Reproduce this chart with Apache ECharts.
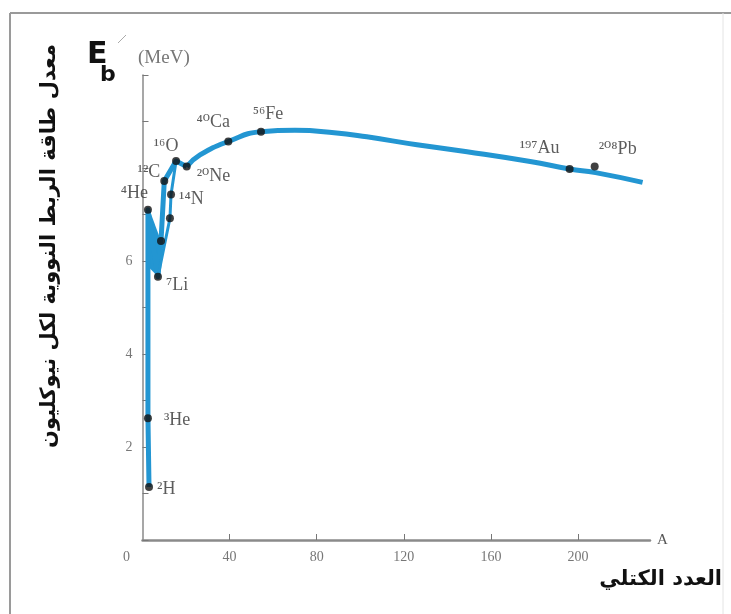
<!DOCTYPE html>
<html>
<head>
<meta charset="utf-8">
<script src="https://cdn.jsdelivr.net/npm/echarts@6/dist/echarts.min.js"></script>
<style>
html, body { margin: 0; padding: 0; background: #fff; }
#main { width: 731px; height: 614px; }
</style>
</head>
<body>
<div id="main"></div>
<script>
var myChart = echarts.init(document.getElementById('main'));

// nuclei: mass number A, binding energy per nucleon (MeV)
var nuclei = ['²H', '³He', '⁴He', '⁷Li', '', '', '¹²C', '¹⁴N', '¹⁶O', '²⁰Ne', '⁴⁰Ca', '⁵⁶Fe', '¹⁹⁷Au', '²⁰⁸Pb'];
var massA = [3, 2.5, 2.5, 7.1, 8.5, 12.6, 10, 13.1, 15.4, 20.3, 39.4, 54.4, 196.1, 207.6];
var energy = [1.14, 2.62, 7.10, 5.66, 6.43, 6.92, 7.72, 7.43, 8.15, 8.03, 8.57, 8.78, 7.98, 8.03];

// light nuclei part of the curve (straight pieces)
var lightA = [3, 2.5, 2.5, 7.1, 8.5, 10, 15.4, 20.3];
var lightE = [1.14, 2.62, 7.10, 5.66, 6.43, 7.72, 8.15, 8.03];
// filled wedge between 4He and 7Li
var wedgeA = [2.2, 2.2, 7.1, 8.5, 4];
var wedgeE = [7.10, 5.9, 5.66, 6.43, 7.0];
// side branch through 11B and 14N
var branchA = [7.1, 12.6, 13.1, 15.4];
var branchE = [5.66, 6.92, 7.43, 8.15];
// smooth part of the curve
var curveA = [20.3, 26.4, 39.4, 54.4, 70, 88, 103, 126, 149, 178, 196.1, 208, 229.6];
var curveE = [8.03, 8.28, 8.57, 8.78, 8.81, 8.76, 8.67, 8.5, 8.35, 8.14, 7.98, 7.9, 7.69];

var xTicks = [0, 40, 80, 120, 160, 200];
var yTickLabels = [2, 4, 6];

// where each isotope label sits next to its dot
var labelPlace = [
  ['right', [0, 2]], ['right', [8, 2]], ['left', [8, -17]], ['right', [0, 8]],
  ['right', [0, 0]], ['right', [0, 0]], ['left', [4, -9]], ['right', [0, 5]],
  ['top', [-10, 2]], ['right', [2, 10]], ['top', [-15, -2]], ['top', [7, 0]],
  ['top', [-30, -4]], ['top', [23, 0]]
];

function pairs(xs, ys) {
  var out = [];
  for (var i = 0; i < xs.length; i++) out.push([xs[i], ys[i]]);
  return out;
}

var dots = [];
for (var i = 0; i < massA.length; i++) {
  dots.push({
    value: [massA[i], energy[i]],
    name: nuclei[i],
    label: { position: labelPlace[i][0], offset: labelPlace[i][1] }
  });
}

var curveColor = '#2396d2';
var serif = '"Liberation Serif", "DejaVu Serif", serif';

option = {
  animation: false,
  backgroundColor: '#fff',
  grid: { left: 142.5, right: 81, top: 75, bottom: 74 },
  xAxis: {
    type: 'value',
    min: 0,
    max: 233,
    interval: 40,
    name: 'A',
    nameLocation: 'end',
    nameGap: 7,
    nameTextStyle: { fontFamily: serif, fontSize: 15, color: '#555' },
    splitLine: { show: false },
    axisLine: { lineStyle: { color: '#8a8a8a', width: 2.5 } },
    axisTick: { inside: true, length: 6, lineStyle: { color: '#777' }, customValues: [40, 80, 120, 160, 200] },
    axisLabel: {
      customValues: xTicks,
      margin: 10,
      fontFamily: serif,
      fontSize: 14,
      color: '#777',
      formatter: function (v) { return v === 0 ? '{z|0}' : String(v); },
      rich: { z: { fontFamily: serif, fontSize: 14, color: '#777', padding: [0, 32, 0, 0] } }
    }
  },
  yAxis: {
    type: 'value',
    min: 0,
    max: 10,
    interval: 1,
    splitLine: { show: false },
    axisLine: { lineStyle: { color: '#8a8a8a', width: 1.5 } },
    axisTick: { inside: true, length: 6, lineStyle: { color: '#777' } },
    axisLabel: {
      margin: 10,
      fontFamily: serif,
      fontSize: 14,
      color: '#777',
      formatter: function (v) { return yTickLabels.indexOf(v) >= 0 ? String(v) : ''; }
    }
  },
  graphic: [
    { type: 'line', shape: { x1: 10, y1: 13, x2: 10, y2: 614 }, style: { stroke: '#9a9a9a', lineWidth: 2 } },
    { type: 'line', shape: { x1: 10, y1: 13, x2: 731, y2: 13 }, style: { stroke: '#9a9a9a', lineWidth: 2 } },
    { type: 'line', shape: { x1: 723, y1: 13, x2: 723, y2: 614 }, style: { stroke: '#e4e4e4', lineWidth: 1 } },
    { type: 'text', left: 87, top: 40, style: { text: 'E', font: 'bold 30px "DejaVu Sans", sans-serif', fill: '#111' } },
    { type: 'text', left: 100, top: 64, style: { text: 'b', font: 'bold 22px "DejaVu Sans", sans-serif', fill: '#111' } },
    { type: 'line', shape: { x1: 118, y1: 43, x2: 126, y2: 35 }, style: { stroke: '#aaa', lineWidth: 1 } },
    { type: 'text', left: 138, top: 49, style: { text: '(MeV)', font: '19px "Liberation Serif", serif', fill: '#777' } },
    {
      type: 'text', x: 50, y: 246, rotation: Math.PI / 2,
      style: {
        text: 'معدل طاقة الربط النووية لكل نيوكليون',
        font: 'bold 21px "DejaVu Sans", sans-serif', fill: '#111',
        textAlign: 'center', textVerticalAlign: 'middle'
      }
    },
    {
      type: 'text', x: 722, y: 580,
      style: {
        text: 'العدد الكتلي',
        font: 'bold 21px "DejaVu Sans", sans-serif', fill: '#111',
        textAlign: 'right', textVerticalAlign: 'middle'
      }
    }
  ],
  series: [
    {
      type: 'custom',
      data: [0],
      renderItem: function (params, api) {
        var pts = [];
        for (var k = 0; k < wedgeA.length; k++) pts.push(api.coord([wedgeA[k], wedgeE[k]]));
        return { type: 'polygon', shape: { points: pts }, style: { fill: curveColor } };
      }
    },
    {
      type: 'line',
      data: pairs(lightA, lightE),
      symbol: 'none',
      lineStyle: { color: curveColor, width: 5, join: 'round' }
    },
    {
      type: 'line',
      data: pairs(branchA, branchE),
      symbol: 'none',
      lineStyle: { color: curveColor, width: 3 }
    },
    {
      type: 'line',
      data: pairs(curveA, curveE),
      smooth: 0.5,
      symbol: 'none',
      lineStyle: { color: curveColor, width: 5 }
    },
    {
      type: 'scatter',
      data: dots,
      symbolSize: 8,
      itemStyle: { color: '#111' },
      z: 5,
      label: {
        show: true,
        formatter: '{b}',
        fontFamily: serif,
        fontSize: 18,
        color: '#333',
        distance: 4
      }
    }
  ]
};

myChart.setOption(option);
</script>
</body>
</html>
